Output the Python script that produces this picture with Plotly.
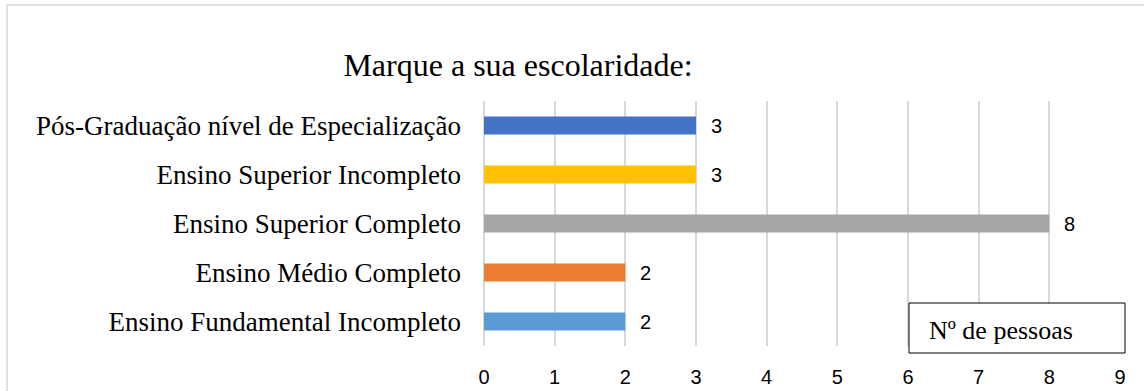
import plotly.graph_objects as go

# Survey responses: education level vs number of people
categories = [
    "Ensino Fundamental Incompleto",
    "Ensino Médio Completo",
    "Ensino Superior Completo",
    "Ensino Superior Incompleto",
    "Pós-Graduação nível de Especialização",
]
counts = [2, 2, 8, 3, 3]
colors = ["#5B9BD5", "#ED7D31", "#A5A5A5", "#FFC000", "#4472C4"]
x_ticks = list(range(0, 10))

W, H = 1144, 391
ml, mr, mt, mb = 484, 24, 101, 45
pw, ph = W - ml - mr, H - mt - mb


def px_x(p):
    return (p - ml) / pw


def px_y(p):
    return (H - mb - p) / ph


SERIF = "Liberation Serif, Times New Roman, serif"
SANS = "Liberation Sans, Arial, sans-serif"

fig = go.Figure(
    go.Bar(
        x=counts,
        y=categories,
        orientation="h",
        marker=dict(color=colors, line=dict(width=0)),
        width=0.37,
        hoverinfo="skip",
    )
)

# value labels to the right of each bar
for c, v in zip(categories, counts):
    fig.add_annotation(
        x=v, y=c, text=str(v), showarrow=False, xanchor="left", xshift=13,
        font=dict(family=SANS, size=20, color="#000000"),
    )

# "Nº de pessoas" box
fig.add_shape(
    type="rect", xref="paper", yref="paper",
    x0=px_x(909), x1=px_x(1125), y0=px_y(353), y1=px_y(303),
    line=dict(color="#000000", width=1), fillcolor="#ffffff",
)
fig.add_annotation(
    xref="paper", yref="paper", x=px_x(927), y=px_y(330),
    xanchor="left", yanchor="middle", text="Nº de pessoas", showarrow=False,
    font=dict(family=SERIF, size=26, color="#000000"),
)

# outer chart frame (top and left edges visible)
fig.add_shape(
    type="rect", xref="paper", yref="paper", layer="below",
    x0=px_x(7), x1=px_x(1170),
    y0=px_y(430), y1=px_y(5),
    line=dict(color="#D9D9D9", width=1.5), fillcolor="rgba(0,0,0,0)",
)

fig.update_layout(
    width=W, height=H,
    margin=dict(l=ml, r=mr, t=mt, b=mb, pad=0, autoexpand=False),
    paper_bgcolor="#ffffff", plot_bgcolor="#ffffff",
    showlegend=False,
    title=dict(
        text="Marque a sua escolaridade:",
        x=518 / W, xanchor="center", y=1 - 65 / H, yanchor="middle",
        font=dict(family=SERIF, size=32, color="#000000"),
    ),
    xaxis=dict(
        range=[0, 9], tickvals=x_ticks, showgrid=True, gridcolor="#D9D9D9", gridwidth=1.5,
        zeroline=True, zerolinecolor="#D9D9D9", zerolinewidth=1.5,
        showline=False, ticks="", ticklabelstandoff=17, automargin=False,
        tickfont=dict(family=SANS, size=20, color="#000000"),
        fixedrange=True,
    ),
    yaxis=dict(
        categoryorder="array", categoryarray=categories,
        showgrid=False, showline=False, ticks="", ticklabelstandoff=22, automargin=False,
        tickfont=dict(family=SERIF, size=27, color="#000000"),
        fixedrange=True,
    ),
)

fig.write_html("out.html")
